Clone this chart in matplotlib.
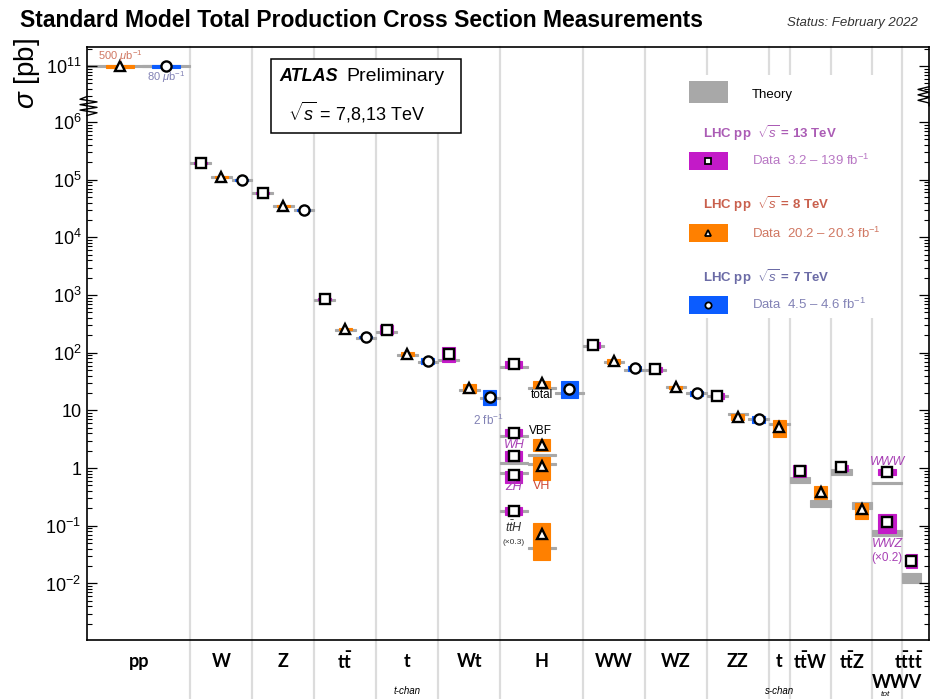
import numpy as np
import matplotlib
matplotlib.use("Agg")
import matplotlib.pyplot as plt
from matplotlib.ticker import FixedLocator, FixedFormatter
from matplotlib.patches import Rectangle

plt.rcParams['font.family'] = ['Liberation Sans', 'DejaVu Sans']
plt.rcParams['mathtext.fontset'] = 'custom'
plt.rcParams['mathtext.rm'] = 'Liberation Sans'
plt.rcParams['mathtext.it'] = 'Liberation Sans:italic'
plt.rcParams['mathtext.bf'] = 'Lato:bold'

# --- categories along x ---
categories = ['pp', 'W', 'Z', 'ttbar', 't_tchan', 'Wt', 'H', 'WW', 'WZ', 'ZZ',
              't_schan', 'ttW', 'ttZ', 'WWV', 'tttt']
cat_labels = ['pp', 'W', 'Z', r'$\mathbf{t\bar{t}}$', 't', 'Wt', 'H', 'WW', 'WZ', 'ZZ',
              't', r'$\mathbf{t\bar{t}W}$', r'$\mathbf{t\bar{t}Z}$', 'WWV',
              r'$\mathbf{t\bar{t}t\bar{t}}$']

# --- measurements (pb) ---
meas_cat = ['pp', 'pp',
            'W', 'W', 'W', 'Z', 'Z', 'Z',
            'ttbar', 'ttbar', 'ttbar', 't_tchan', 't_tchan', 't_tchan', 'Wt', 'Wt', 'Wt',
            'H', 'H', 'H', 'H', 'H', 'H', 'H', 'H', 'H', 'H',
            'WW', 'WW', 'WW', 'WZ', 'WZ', 'WZ', 'ZZ', 'ZZ', 'ZZ',
            't_schan', 'ttW', 'ttW', 'ttZ', 'ttZ', 'WWV', 'WWV', 'tttt']
meas_sqrts = [8, 7,
              13, 8, 7, 13, 8, 7,
              13, 8, 7, 13, 8, 7, 13, 8, 7,
              13, 8, 7, 13, 8, 13, 8, 13, 13, 8,
              13, 8, 7, 13, 8, 7, 13, 8, 7,
              8, 13, 8, 13, 8, 13, 13, 13]
meas_tag = ['', '',
            '', '', '', '', '', '',
            '', '', '', '', '', '', '', '', '',
            'tot', 'tot', 'tot', 'VBF', 'VBF', 'WH', 'VH', 'ZH', 'ttH', 'ttH',
            '', '', '', '', '', '', '', '', '',
            '', '', '', '', '', 'WWW', 'WWZ', '']
sigma = [1.0e11, 9.8e10,
         1.93e5, 1.10e5, 9.8e4, 5.83e4, 3.47e4, 2.96e4,
         849, 256, 186, 250, 94.6, 71.5, 94.6, 24.3, 17.0,
         63.5, 29.7, 23.4, 4.04, 2.50, 1.61, 1.08, 0.757, 0.18, 0.0718,
         135, 71.5, 54.1, 52.0, 25.3, 19.9, 17.7, 7.65, 7.07,
         5.13, 0.887, 0.384, 1.04, 0.195, 0.853, 0.116, 0.0244]
data_lo = [9.4e10, 9.3e10,
           1.85e5, 1.06e5, 9.4e4, 5.6e4, 3.33e4, 2.84e4,
           815, 246, 178, 210, 88, 63, 69, 20.0, 12.3,
           54, 24.3, 16.3, 3.58, 1.97, 1.32, 0.62, 0.55, 0.153, 0.0255,
           120, 63, 48, 46, 23.5, 17.7, 15.7, 6.8, 6.0,
           3.45, 0.698, 0.29, 0.887, 0.131, 0.757, 0.075, 0.0185]
data_hi = [1.06e11, 1.04e11,
           2.01e5, 1.14e5, 1.02e5, 6.05e4, 3.6e4, 3.08e4,
           885, 266, 194, 300, 101, 80, 125, 28.5, 22.5,
           71.5, 32.1, 32.1, 4.74, 3.18, 1.97, 1.55, 0.887, 0.212, 0.111,
           152, 77, 58, 56, 27, 21.6, 19.9, 8.6, 7.9,
           6.8, 1.127, 0.487, 1.127, 0.248, 0.96, 0.16, 0.0324]
theory_lo = [9.6e10, 9.6e10,
             1.87e5, 1.07e5, 9.5e4, 5.65e4, 3.36e4, 2.86e4,
             800, 240, 172, 220, 87, 66, 71, 21.7, 15.7,
             54.5, 23.5, 19.3, 3.48, 1.63, 1.18, 1.13, 0.79, 0.174, 0.039,
             126, 66.5, 48.5, 48.5, 24.5, 19.3, 17.2, 8.35, 6.9,
             5.6, 0.55, 0.211, 0.757, 0.195, 0.53, 0.066, 0.0101]
theory_hi = [1.02e11, 1.02e11,
             2.0e5, 1.14e5, 1.01e5, 6.0e4, 3.6e4, 3.05e4,
             860, 260, 186, 235, 94, 71, 77, 23.4, 16.9,
             58, 25.1, 20.5, 3.7, 1.73, 1.26, 1.21, 0.85, 0.186, 0.043,
             134, 70.8, 51.5, 51.5, 26, 20.5, 18.2, 8.85, 7.3,
             6.0, 0.698, 0.279, 0.96, 0.258, 0.57, 0.084, 0.0152]

# --- layout (slot units) ---
cat_width = {'pp': 5, 'W': 3, 'Z': 3, 'ttbar': 3, 't_tchan': 3, 'Wt': 3, 'H': 4,
             'WW': 3, 'WZ': 3, 'ZZ': 3, 't_schan': 1, 'ttW': 2, 'ttZ': 2,
             'WWV': 1.45, 'tttt': 1.3}
slot_default = {13: 0.5, 8: 1.5, 7: 2.5}
slot_special = {('pp', 8): 1.6, ('pp', 7): 3.83, ('H', 13): 0.66, ('H', 8): 2.0,
                ('H', 7): 3.35, ('t_schan', 8): 0.5, ('WWV', 13): 0.72, ('tttt', 13): 0.45}
data_w = {'pp': 1.33, 'H': 0.82, 'WWV': 0.85, 'tttt': 0.55}
theory_w = {'H': 1.36, 'WWV': 1.45, 'tttt': 0.92}
theory_w_special = {('pp', 8): 3.2, ('pp', 7): 2.34}

colors = {13: '#c31ac8', 8: '#ff8000', 7: '#0b5cff'}
markers = {13: 's', 8: '^', 7: 'o'}
grey = '#a8a8a8'
sep_color = '#dcdcdc'
col_13, col_8, col_7 = '#ab5cb5', '#c9604d', '#6b6ba6'
col_13d, col_8d, col_7d = '#b877c4', '#d07762', '#8282b5'
col_mag = '#a840b5'

# --- broken log axis ---
BREAK = 6.27
JUMP = 4.033
EPS = 1e-3


def fwd(v):
    with np.errstate(divide='ignore', invalid='ignore'):
        l = np.log10(np.asarray(v, dtype=float))
    return np.where(l <= BREAK, l,
                    np.where(l >= BREAK + JUMP, l - JUMP + EPS * JUMP,
                             BREAK + (l - BREAK) * EPS))


def inv(d):
    d = np.asarray(d, dtype=float)
    top = BREAK + JUMP * EPS
    l = np.where(d <= BREAK, d,
                 np.where(d >= top, d + JUMP - JUMP * EPS, BREAK + (d - BREAK) / EPS))
    return 10 ** l


fig = plt.figure(figsize=(9.30, 6.99), dpi=100)
ax = fig.add_axes([87 / 930, 59 / 699, 842 / 930, 593 / 699])
ax.set_yscale('function', functions=(fwd, inv))

edges = np.concatenate([[0], np.cumsum([cat_width[c] for c in categories])])
cat_start = dict(zip(categories, edges[:-1]))
ax.set_xlim(0, edges[-1])
ax.set_ylim(10 ** -2.98, 10 ** (7.30 + JUMP - JUMP * EPS))

# category separators (run below the frame into the label area)
for b in edges[1:-1]:
    ax.plot([b, b], [-0.11, 1], transform=ax.get_xaxis_transform(), color=sep_color,
            lw=1.6, clip_on=False, zorder=0.5)

xpos = []
for i, c in enumerate(meas_cat):
    e = meas_sqrts[i]
    xpos.append(cat_start[c] + slot_special.get((c, e), slot_default[e]))
    tw = theory_w_special.get((c, e), theory_w.get(c, 1.0))
    dw = data_w.get(c, 0.63)
    ax.bar(xpos[i], theory_hi[i] - theory_lo[i], bottom=theory_lo[i], width=tw,
           color=grey, edgecolor=grey, lw=0.8, zorder=1)
    ax.bar(xpos[i], data_hi[i] - data_lo[i], bottom=data_lo[i], width=dw,
           color=colors[e], edgecolor=colors[e], lw=0.8, zorder=2)

for e in (13, 8, 7):
    xs = [xpos[i] for i in range(len(sigma)) if meas_sqrts[i] == e]
    ys = [sigma[i] for i in range(len(sigma)) if meas_sqrts[i] == e]
    ms = 7 if e == 13 else 7.3
    ax.plot(xs, ys, ls='none', marker=markers[e], ms=ms, mfc='white', mec='black',
            mew=1.7, zorder=3)


def idx(c, e, tag=''):
    for i in range(len(sigma)):
        if meas_cat[i] == c and meas_sqrts[i] == e and meas_tag[i] == tag:
            return i


def note(i, text, dx, dy, **kw):
    ax.annotate(text, (xpos[i], sigma[i]), xytext=(dx * 0.72, dy * 0.72),
                textcoords='offset points', ha='center', va='center', zorder=5, **kw)


note(idx('pp', 8), r'500 $\mu$b$^{-1}$', 0, 10, color=col_8d, fontsize=8)
note(idx('pp', 7), r'80 $\mu$b$^{-1}$', 0, -11, color=col_7d, fontsize=8)
note(idx('Wt', 7), r'2 fb$^{-1}$', -2, -23, color=col_7d, fontsize=8.5)
note(idx('H', 8, 'tot'), 'total', 0, -12, color='black', fontsize=8.5)
note(idx('H', 13, 'VBF'), 'VBF', 27, 2, color='black', fontsize=8.5)
note(idx('H', 13, 'WH'), 'WH', 0, 11, color=col_mag, fontsize=9, style='italic')
note(idx('H', 8, 'VH'), 'VH', 0, -20, color='#d04a35', fontsize=9)
note(idx('H', 13, 'ZH'), 'ZH', 0, -12, color=col_mag, fontsize=9, style='italic')
note(idx('H', 13, 'ttH'), r'$t\bar{t}H$', 0, -16, color='#333333', fontsize=9)
note(idx('H', 13, 'ttH'), '(×0.3)', 0, -31, color='#333333', fontsize=6)
note(idx('WWV', 13, 'WWW'), 'WWW', 0, 10, color=col_mag, fontsize=9, style='italic')
note(idx('WWV', 13, 'WWZ'), 'WWZ', 0, -22, color=col_mag, fontsize=9, style='italic')
note(idx('WWV', 13, 'WWZ'), '(×0.2)', 0, -36, color=col_mag, fontsize=8.5)

# --- y ticks ---
major = [1e-2, 1e-1, 1, 10, 1e2, 1e3, 1e4, 1e5, 1e6, 1e11]
major_lab = [r'$\mathregular{10^{-2}}$', r'$\mathregular{10^{-1}}$', '1', '10',
             r'$\mathregular{10^{2}}$', r'$\mathregular{10^{3}}$', r'$\mathregular{10^{4}}$',
             r'$\mathregular{10^{5}}$', r'$\mathregular{10^{6}}$', r'$\mathregular{10^{11}}$']
minor = [k * 10.0 ** n for n in range(-3, 6) for k in range(2, 10)]
minor = [m for m in minor if 10 ** -2.98 < m < 10 ** BREAK]
minor += [k * 1e10 for k in range(3, 10)] + [2e11]
ax.yaxis.set_major_locator(FixedLocator(major))
ax.yaxis.set_major_formatter(FixedFormatter(major_lab))
ax.yaxis.set_minor_locator(FixedLocator(minor))
ax.yaxis.set_minor_formatter(FixedFormatter([''] * len(minor)))
ax.tick_params(axis='y', which='both', direction='in', left=True, right=True,
               labelsize=13, pad=4)
ax.tick_params(axis='y', which='major', length=7.2, width=0.9)
ax.tick_params(axis='y', which='minor', length=3.6, width=0.8)
ax.set_xticks([])
for s in ax.spines.values():
    s.set_linewidth(1.2)

# axis break zigzags
zy = np.linspace(0.9005 + 0.016, 0.9005 - 0.016, 8)
ax.plot([0, -0.0083, 0.0119, -0.0083, 0.0119, -0.0083, 0.0119, 0], zy,
        transform=ax.transAxes, color='black', lw=1, clip_on=False, zorder=6)
zy = np.linspace(0.917 + 0.016, 0.917 - 0.016, 8)
ax.plot([1, 0.987, 1, 0.987, 1, 0.987, 1, 1], zy,
        transform=ax.transAxes, color='black', lw=1, clip_on=False, zorder=6)

# category labels below the frame
trans = ax.get_xaxis_transform()
for c, lab in zip(categories, cat_labels):
    if c in ('WWV', 'tttt'):
        continue
    cx = cat_start[c] + cat_width[c] / 2
    ax.text(cx, -0.037, lab, transform=trans, ha='center', va='center',
            fontsize=13, fontfamily='Lato', fontweight='bold')
ax.text(39.74, -0.037, cat_labels[-1], transform=trans, ha='center', va='center',
        fontsize=13, fontfamily='Lato', fontweight='bold')
ax.text(39.2, -0.072, 'WWV', transform=trans, ha='center', va='center',
        fontsize=13, fontfamily='Lato', fontweight='bold')
ax.text(38.65, -0.0925, 'tot', transform=trans, ha='center', va='center',
        fontsize=6, style='italic')
ax.text(cat_start['t_tchan'] + 1.5, -0.086, 't-chan', transform=trans, ha='center',
        va='center', fontsize=7, style='italic')
ax.text(cat_start['t_schan'] + 0.5, -0.086, 's-chan', transform=trans, ha='center',
        va='center', fontsize=7, style='italic')

# ATLAS box
ax.add_patch(Rectangle((0.2185, 0.855), 0.2257, 0.125, transform=ax.transAxes,
                       facecolor='white', edgecolor='black', lw=1.1, zorder=4))
ax.text(0.229, 0.951, 'ATLAS', transform=ax.transAxes, fontsize=13, fontweight='bold',
        style='italic', va='center', zorder=5)
ax.text(0.3076, 0.951, 'Preliminary', transform=ax.transAxes, fontsize=14,
        va='center', zorder=5)
ax.text(0.2387, 0.889, r'$\sqrt{s}$ = 7,8,13 TeV', transform=ax.transAxes, fontsize=13,
        va='center', zorder=5)

# legend
ax.add_patch(Rectangle((0.698, 0.543), 0.258, 0.41, transform=ax.transAxes,
                       facecolor='white', edgecolor='none', zorder=4))
ax.add_patch(Rectangle((0.715, 0.906), 0.046, 0.037, transform=ax.transAxes,
                       facecolor=grey, edgecolor='none', zorder=5))
ax.text(0.790, 0.919, 'Theory', transform=ax.transAxes, fontsize=9.5, va='center', zorder=5)
leg_rows = [(13, 0.855, 0.793, r'Data  3.2 – 139 fb$^{-1}$', col_13, col_13d),
            (8, 0.735, 0.671, r'Data  20.2 – 20.3 fb$^{-1}$', col_8, col_8d),
            (7, 0.612, 0.550, r'Data  4.5 – 4.6 fb$^{-1}$', col_7, col_7d)]
for e, yt, yb, txt, ct, cd in leg_rows:
    ax.text(0.7316, yt, r'LHC pp  $\sqrt{s}$ = %d TeV' % e, transform=ax.transAxes,
            fontsize=9.5, fontweight='bold', color=ct, va='center', zorder=5)
    ax.add_patch(Rectangle((0.715, yb), 0.046, 0.0303, transform=ax.transAxes,
                           facecolor=colors[e], edgecolor='none', zorder=5))
    ax.plot([0.7375], [yb + 0.015], transform=ax.transAxes, marker=markers[e], ms=4.5,
            mfc='white', mec='black', mew=1.3, zorder=6)
    ax.text(0.790, yb + 0.0155, txt, transform=ax.transAxes, fontsize=9.5, color=cd,
            va='center', zorder=5)

# titles
fig.text(0.0215, 0.971, 'Standard Model Total Production Cross Section Measurements',
         fontsize=16.5, fontweight='bold', va='center')
fig.text(0.987, 0.967, 'Status: February 2022', fontsize=9.5, style='italic',
         ha='right', va='center', color='#333333')
fig.text(0.029, 0.894, r'$\sigma$ [pb]', fontsize=20, rotation=90, ha='center', va='center')

fig.savefig('out.png', dpi=100)
